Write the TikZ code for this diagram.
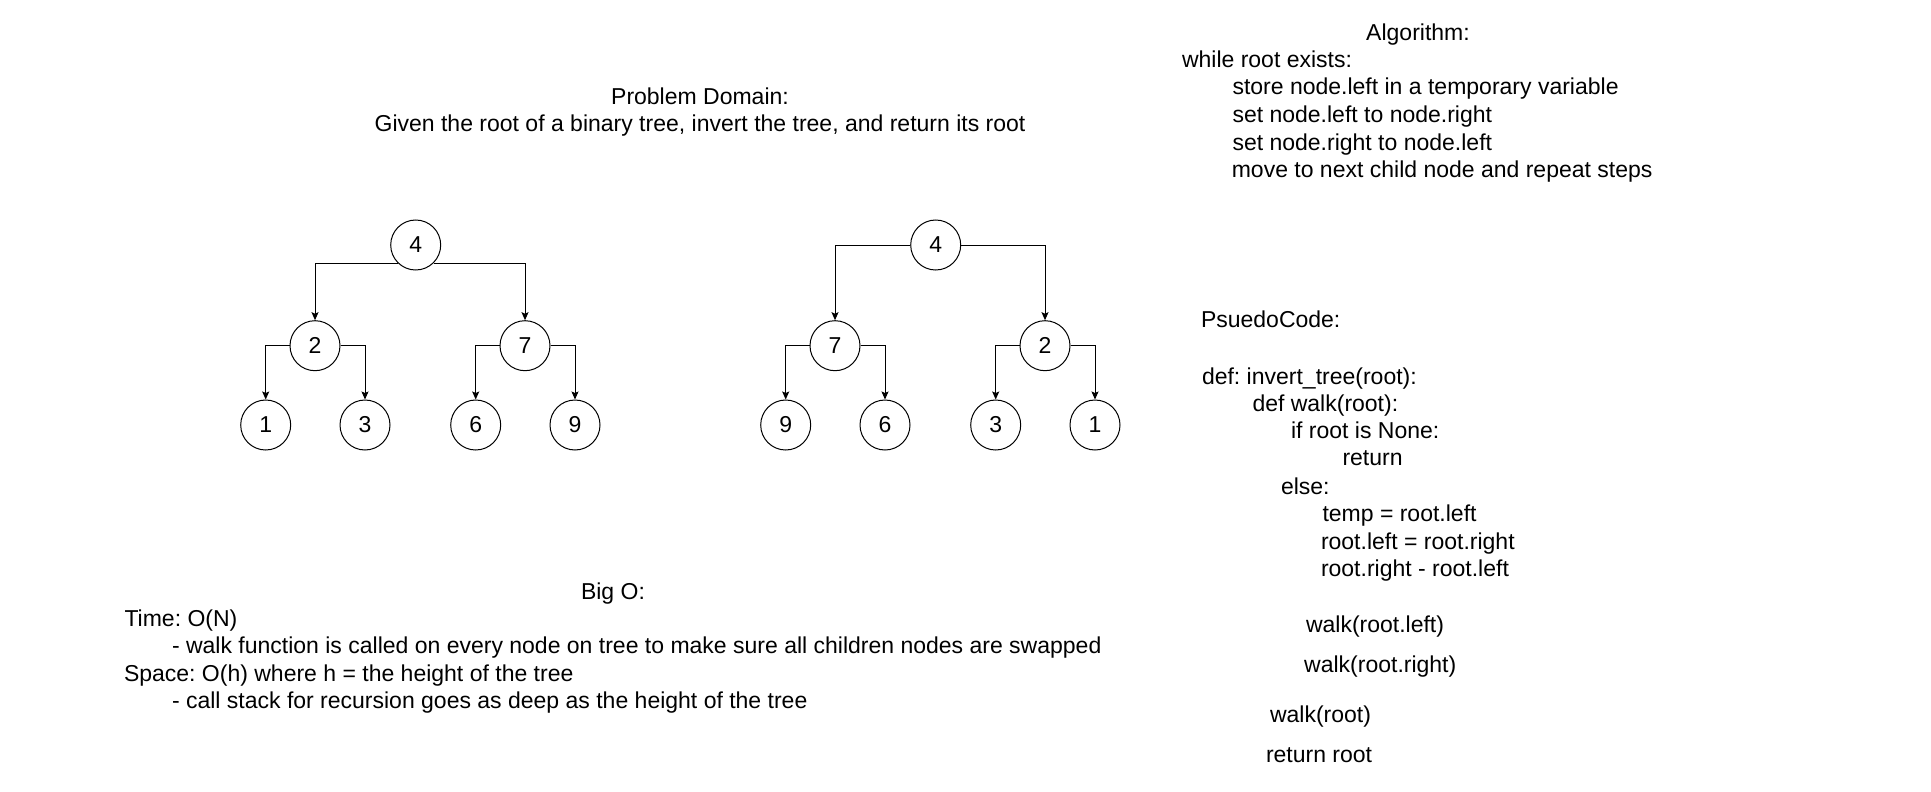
\documentclass[tikz,border=0pt]{standalone}
\usepackage{fontspec}
\setmainfont{Liberation Sans}
\usetikzlibrary{arrows.meta}
\frenchspacing
\tikzset{
  txt/.style={inner sep=0pt, outer sep=0pt, font=\fontsize{23}{27.6}\selectfont\frenchspacing, text=black},
  lt/.style={txt, anchor=base west},
  ct/.style={txt, anchor=base},
  tnode/.style={circle, draw=black, line width=1pt, fill=white, minimum size=50pt, inner sep=0pt, font=\fontsize{23}{27.6}\selectfont},
  edge/.style={draw=black, line width=1pt, -{Stealth[length=8pt,width=7pt,inset=1.5pt]}}
}
\begin{document}
\begin{tikzpicture}[x=1pt,y=-1pt]
\useasboundingbox[fill=white] (0,0) rectangle (1931,792);

% ---- Problem domain
\node[ct] (pd1) at (700,104) {Problem Domain:};
\node[ct] (pd2) at (700,131.7) {Given the root of a binary tree, invert the tree, and return its root};

% ---- Algorithm
\node[ct] (al0) at (1418,40.7) {Algorithm:};
\node[lt] (al1) at (1182,67.3) {while root exists:};
\node[lt] (al2) at (1232.5,95) {store node.left in a temporary variable};
\node[lt] (al3) at (1232.5,122.5) {set node.left to node.right};
\node[lt] (al4) at (1232.5,150) {set node.right to node.left};
\node[lt] (al5) at (1231.8,177.5) {move to next child node and repeat steps};

% ---- Tree 1 (original)
\node[tnode] (a4) at (415.7,245) {4};
\node[tnode] (a2) at (315,345.7) {2};
\node[tnode] (a7) at (525,345.7) {7};
\node[tnode] (a1) at (265.7,425) {1};
\node[tnode] (a3) at (365,425) {3};
\node[tnode] (a6) at (475.7,425) {6};
\node[tnode] (a9) at (575,425) {9};
\draw[edge] (a4.south west) -| (a2);
\draw[edge] (a4.south east) -| (a7);
\draw[edge] (a2.west) -| (a1);
\draw[edge] (a2.east) -| (a3);
\draw[edge] (a7.west) -| (a6);
\draw[edge] (a7.east) -| (a9);

% ---- Tree 2 (inverted)
\node[tnode] (b4) at (935.7,245) {4};
\node[tnode] (b7) at (835,345.7) {7};
\node[tnode] (b2) at (1045,345.7) {2};
\node[tnode] (b9) at (785.7,425) {9};
\node[tnode] (b6) at (885,425) {6};
\node[tnode] (b3) at (995.7,425) {3};
\node[tnode] (b1) at (1095,425) {1};
\draw[edge] (b4.west) -| (b7);
\draw[edge] (b4.east) -| (b2);
\draw[edge] (b7.west) -| (b9);
\draw[edge] (b7.east) -| (b6);
\draw[edge] (b2.west) -| (b3);
\draw[edge] (b2.east) -| (b1);

% ---- PsuedoCode
\node[lt] (pc0) at (1201,327.3) {PsuedoCode:};
\node[lt] (pc1) at (1202,384) {def: invert\_tree(root):};
\node[lt] (pc2) at (1252.5,411) {def walk(root):};
\node[lt] (pc3) at (1291,438.3) {if root is None:};
\node[lt] (pc4) at (1342.5,465.7) {return};
\node[lt] (pc5) at (1281,494) {else:};
\node[lt] (pc6) at (1322.5,521.7) {temp = root.left};
\node[lt] (pc7) at (1321,549.3) {root.left = root.right};
\node[lt] (pc8) at (1321,576.7) {root.right - root.left};
\node[lt] (pc9) at (1306,632.7) {walk(root.left)};
\node[lt] (pc10) at (1304.2,672.7) {walk(root.right)};
\node[lt] (pc11) at (1270,722.7) {walk(root)};
\node[lt] (pc12) at (1266,762.7) {return root};

% ---- Big O
\node[ct] (bo0) at (613,599) {Big O:};
\node[lt] (bo1) at (124.5,626.5) {Time: O(N)};
\node[lt] (bo2) at (172,653.5) {- walk function is called on every node on tree to make sure all children nodes are swapped};
\node[lt] (bo3) at (124,681) {Space: O(h) where h = the height of the tree};
\node[lt] (bo4) at (172,708.3) {- call stack for recursion goes as deep as the height of the tree};
\end{tikzpicture}
\end{document}
